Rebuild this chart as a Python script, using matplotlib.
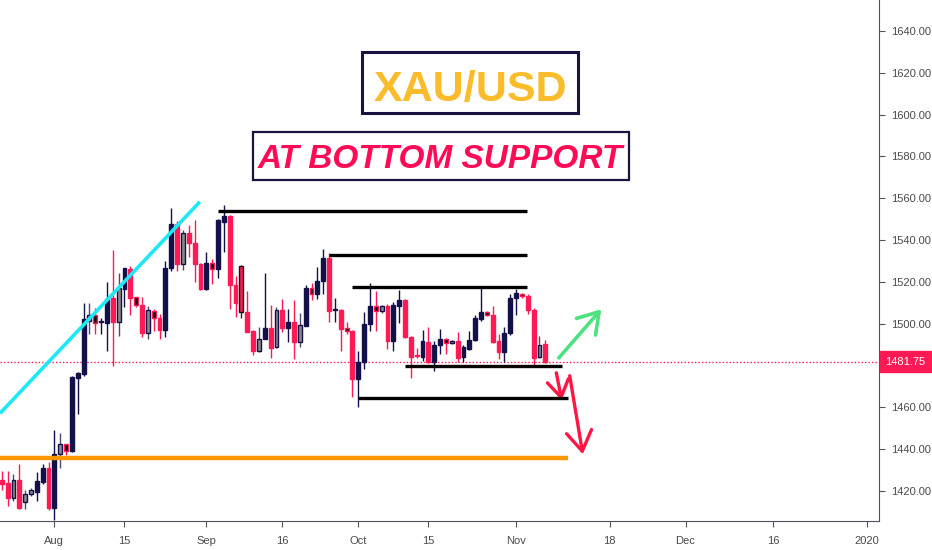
import matplotlib.pyplot as plt
from matplotlib.patches import Rectangle
import matplotlib.transforms as mtransforms

# daily candles, XAU/USD
opens = [1425.2, 1423.8, 1416.6, 1425.2, 1414.7, 1418.5, 1419.5, 1424.2, 1431.0, 1411.8,
         1437.7, 1442.4, 1439.1, 1474.1, 1476.0, 1501.4, 1504.0, 1501.0, 1500.5, 1512.2,
         1500.6, 1516.7, 1526.2, 1512.6, 1509.1, 1495.6, 1505.9, 1502.8, 1497.1, 1526.7,
         1547.8, 1528.3, 1543.3, 1538.5, 1528.6, 1516.7, 1529.0, 1525.9, 1548.6, 1551.5,
         1518.6, 1527.8, 1505.8, 1496.7, 1487.1, 1492.7, 1498.0, 1488.7, 1506.3, 1497.8,
         1500.6, 1491.1, 1499.1, 1517.0, 1514.3, 1520.3, 1531.5, 1506.4, 1506.7, 1498.0,
         1496.7, 1473.5, 1481.5, 1499.9, 1508.2, 1505.9, 1508.4, 1491.6, 1508.6, 1511.4,
         1493.8, 1484.9, 1484.2, 1491.4, 1481.5, 1490.0, 1492.7, 1490.6, 1491.9, 1483.9,
         1487.9, 1492.2, 1502.3, 1505.5, 1503.9, 1491.9, 1486.6, 1495.4, 1512.3, 1514.3,
         1513.0, 1506.6, 1484.2, 1490.3]
highs = [1429.6, 1429.6, 1428.0, 1432.9, 1420.4, 1421.5, 1429.1, 1433.0, 1433.9, 1449.2,
         1447.8, 1442.6, 1475.0, 1477.0, 1510.0, 1510.0, 1507.7, 1502.5, 1519.7, 1535.3,
         1524.0, 1526.8, 1527.8, 1512.8, 1512.6, 1508.6, 1507.2, 1504.7, 1530.2, 1555.5,
         1549.1, 1544.9, 1547.0, 1549.7, 1529.0, 1534.2, 1531.0, 1550.2, 1556.9, 1552.0,
         1523.0, 1528.0, 1515.8, 1497.0, 1498.3, 1524.3, 1509.0, 1507.8, 1511.8, 1507.1,
         1511.5, 1505.2, 1518.6, 1519.6, 1527.0, 1535.8, 1533.7, 1512.3, 1507.0, 1500.6,
         1497.0, 1487.1, 1505.4, 1519.4, 1515.5, 1509.0, 1509.5, 1510.2, 1516.2, 1511.8,
         1494.0, 1488.3, 1497.0, 1498.3, 1491.9, 1497.5, 1493.0, 1492.2, 1495.8, 1490.0,
         1496.5, 1504.3, 1518.2, 1506.0, 1508.6, 1495.0, 1498.3, 1514.3, 1516.7, 1514.8,
         1514.3, 1507.5, 1494.3, 1492.2]
lows = [1420.4, 1412.8, 1415.2, 1411.3, 1411.3, 1417.5, 1415.2, 1423.3, 1410.9, 1406.0,
        1431.0, 1437.2, 1438.8, 1456.9, 1475.0, 1495.2, 1495.2, 1495.2, 1487.0, 1479.9,
        1494.3, 1507.8, 1503.9, 1508.0, 1493.5, 1492.7, 1496.7, 1492.7, 1493.5, 1525.4,
        1525.4, 1525.7, 1532.1, 1519.8, 1516.0, 1516.2, 1519.0, 1521.8, 1534.2, 1507.1,
        1503.0, 1502.5, 1495.8, 1485.0, 1486.6, 1492.5, 1483.4, 1488.5, 1495.8, 1491.1,
        1483.0, 1488.7, 1499.0, 1511.5, 1511.8, 1514.3, 1500.6, 1500.6, 1486.7, 1495.0,
        1465.0, 1460.0, 1478.3, 1496.3, 1496.3, 1505.0, 1487.9, 1487.0, 1500.2, 1493.0,
        1474.0, 1483.6, 1482.0, 1481.0, 1477.2, 1485.5, 1485.5, 1490.3, 1481.5, 1481.5,
        1487.5, 1491.5, 1501.5, 1503.5, 1490.6, 1483.0, 1481.5, 1494.7, 1503.9, 1512.5,
        1504.7, 1479.9, 1483.6, 1481.0]
closes = [1423.3, 1416.6, 1425.2, 1411.8, 1418.5, 1420.4, 1424.7, 1431.0, 1411.8, 1437.7,
          1442.4, 1439.1, 1474.6, 1476.5, 1502.0, 1504.3, 1500.5, 1501.3, 1512.0, 1500.6,
          1517.1, 1526.5, 1512.3, 1509.1, 1495.6, 1506.3, 1502.8, 1497.1, 1526.7, 1547.8,
          1528.3, 1543.3, 1538.5, 1528.6, 1516.7, 1529.0, 1526.3, 1549.4, 1551.5, 1518.3,
          1510.0, 1505.4, 1496.2, 1487.1, 1492.7, 1498.0, 1488.2, 1506.3, 1497.8, 1500.6,
          1491.1, 1499.4, 1517.0, 1514.3, 1520.6, 1531.5, 1505.9, 1506.8, 1497.5, 1496.3,
          1473.5, 1481.5, 1499.9, 1508.2, 1505.9, 1508.2, 1491.6, 1509.0, 1511.4, 1493.5,
          1484.2, 1484.4, 1491.5, 1481.5, 1490.0, 1492.7, 1490.6, 1491.9, 1483.6, 1488.7,
          1492.2, 1502.8, 1505.8, 1503.9, 1491.1, 1486.6, 1495.4, 1512.3, 1514.6, 1513.0,
          1506.6, 1483.6, 1490.0, 1481.75]
# n = navy, r = red, g = grey, k = red edge / black body, x = black edge / red body
styles = list("rrgrggnnrn" "gknnngknnr" "gnrkrgkrnn" "rgrrrnknnr"
              "rxrrgnrgrn" "rgnknnrnrk" "rnnnkgrnnr" "rrnrnnkgrn"
              "nnnkrrnnnk" "rrgr")

last_price = 1481.75

tick_pos = [9, 21, 35, 48, 61, 73, 88, 104, 117, 132, 148]
tick_labels = ["Aug", "15", "Sep", "16", "Oct", "15", "Nov", "18", "Dec", "16", "2020"]
# 1480 is hidden behind the last-price tag
price_ticks = [1420, 1440, 1460, 1500, 1520, 1540, 1560, 1580, 1600, 1620, 1640]

# drawn levels: (start bar, end bar, price)
black_levels = [(37.0, 89.9, 1553.9), (56.0, 89.9, 1532.8), (60.0, 89.8, 1517.4),
                (69.0, 95.8, 1479.9), (61.0, 96.9, 1464.3)]
orange_level = (-0.3, 96.9, 1435.6)
trend_x = [-0.3, 33.9]
trend_y = [1457.1, 1558.3]

NAVY = "#13114a"
RED = "#ff1a55"
GREY = "#8a8a8a"
face = {"n": NAVY, "r": RED, "g": GREY, "k": "#111111", "x": RED}
edge = {"n": NAVY, "r": RED, "g": NAVY, "k": RED, "x": "#111111"}
wick = {"n": NAVY, "r": RED, "g": "#4a4a6a", "k": RED, "x": "#222222"}

fig = plt.figure(figsize=(9.32, 5.5), dpi=100)
ax = fig.add_axes([0, 29 / 550, 879 / 932, 521 / 550])

xs = list(range(len(opens)))
for i in xs:
    s = styles[i]
    o, h, l, c = opens[i], highs[i], lows[i], closes[i]
    ax.vlines(i, l, h, color=wick[s], lw=1.0, zorder=2)
    lo = min(o, c)
    ht = max(abs(c - o), 0.5)
    ax.bar(i, ht, bottom=lo, width=0.66, color=face[s], edgecolor=edge[s],
           linewidth=1.0, zorder=3)

ax.axhline(last_price, color=RED, lw=1.0, ls=(0, (1, 1.5)), zorder=1)

for x0, x1, p in black_levels:
    ax.plot([x0, x1], [p, p], color="#000000", lw=2.4, solid_capstyle="butt", zorder=4)
ax.plot(orange_level[:2], [orange_level[2]] * 2, color="#ff9800", lw=3.2,
        solid_capstyle="butt", zorder=4)
ax.plot(trend_x, trend_y, color="#1de9f6", lw=2.6, solid_capstyle="butt", zorder=4)

# scenario arrows
head = "->,head_length=0.55,head_width=0.35"
ax.annotate("", xy=(102.9, 1507.9), xytext=(95.0, 1482.6),
            arrowprops=dict(arrowstyle=head, color="#4be27f", lw=2.6, mutation_scale=26))
ax.annotate("", xy=(95.9, 1462.0), xytext=(94.8, 1477.8),
            arrowprops=dict(arrowstyle=head, color="#ff1744", lw=2.4, mutation_scale=22))
ax.annotate("", xy=(99.5, 1436.2), xytext=(97.1, 1476.4),
            arrowprops=dict(arrowstyle=head, color="#ff1744", lw=2.4, mutation_scale=26))

ax.set_xlim(-0.3, 150.1)
ax.set_ylim(1405.6, 1654.8)

ax.yaxis.tick_right()
ax.set_yticks(price_ticks)
ax.set_yticklabels([f"{p:.2f}" for p in price_ticks])
ax.set_xticks(tick_pos)
ax.set_xticklabels(tick_labels)
ax.tick_params(axis="both", direction="out", length=4, color="#50535e",
               labelcolor="#4a4a4a", labelsize=8)
ax.tick_params(axis="y", pad=5)
ax.tick_params(axis="x", pad=7)
for lab in ax.get_xticklabels() + ax.get_yticklabels():
    lab.set_family("Liberation Sans")
for side in ["left", "top"]:
    ax.spines[side].set_visible(False)
for side in ["right", "bottom"]:
    ax.spines[side].set_color("#50535e")

trans = mtransforms.blended_transform_factory(ax.transAxes, ax.transData)
ax.annotate(f"{last_price:.2f}", xy=(1.0, last_price), xycoords=trans,
            xytext=(4.5, 0), textcoords="offset points", ha="left", va="center",
            color="white", fontsize=8, family="Liberation Sans", annotation_clip=False,
            bbox=dict(boxstyle="square,pad=0.5", fc=RED, ec=RED))

# title boxes
fig.add_artist(Rectangle((362 / 932, 1 - 113 / 550), 216 / 932, 61 / 550,
                         transform=fig.transFigure, fc="white", ec="#1c1240", lw=2.2))
fig.text(470 / 932, 1 - 101 / 550, "XAU/USD", ha="center", va="baseline",
         color="#fbbc2c", fontsize=31, fontweight="bold", family="Liberation Sans")
fig.add_artist(Rectangle((253 / 932, 1 - 180 / 550), 376 / 932, 48 / 550,
                         transform=fig.transFigure, fc="white", ec="#1c1240", lw=1.6))
fig.text(440 / 932, 1 - 168 / 550, "AT BOTTOM SUPPORT", ha="center", va="baseline",
         color="#ff0a54", fontsize=24, fontweight="bold", fontstyle="italic",
         family="Liberation Sans")

fig.savefig("out.png", dpi=100)
